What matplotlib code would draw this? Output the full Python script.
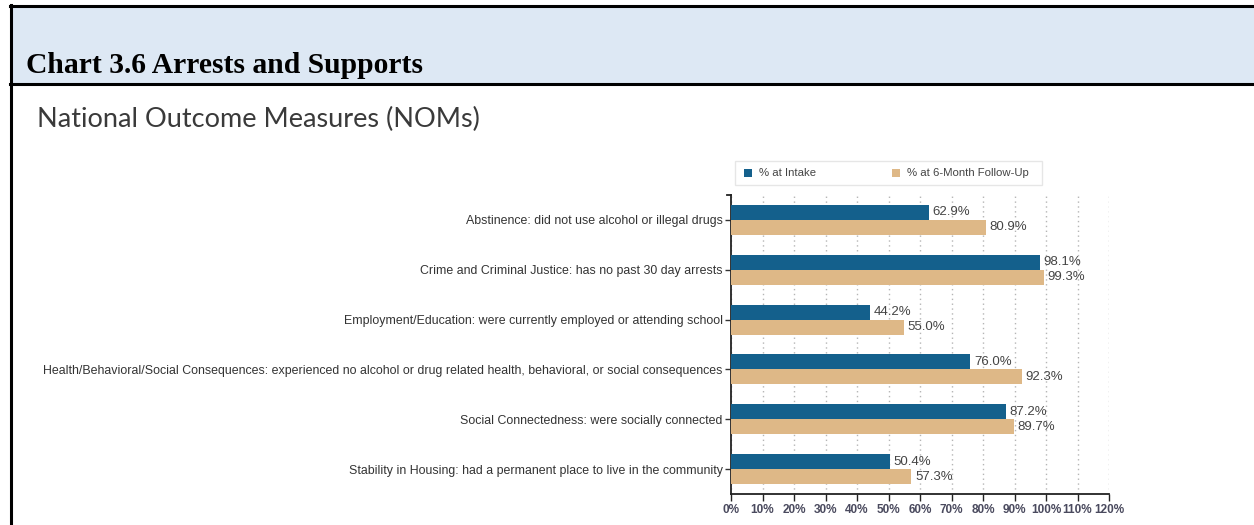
import matplotlib
matplotlib.use("Agg")
import matplotlib.pyplot as plt
from matplotlib.patches import Rectangle
from matplotlib.lines import Line2D

categories = [
    "Abstinence: did not use alcohol or illegal drugs",
    "Crime and Criminal Justice: has no past 30 day arrests",
    "Employment/Education: were currently employed or attending school",
    "Health/Behavioral/Social Consequences: experienced no alcohol or drug related health, behavioral, or social consequences",
    "Social Connectedness: were socially connected",
    "Stability in Housing: had a permanent place to live in the community",
]
intake = [62.9, 98.1, 44.2, 76.0, 87.2, 50.4]
followup = [80.9, 99.3, 55.0, 92.3, 89.7, 57.3]
series_names = ["% at Intake", "% at 6-Month Follow-Up"]
x_ticks = list(range(0, 121, 10))
x_tick_labels = [f"{t}%" for t in x_ticks]

W, H = 1254, 525
fig = plt.figure(figsize=(W / 100, H / 100), dpi=100)
fig.patch.set_facecolor("white")


def fx(px):
    return px / W


def fy(py):
    return 1 - py / H


# Header band with borders
fig.add_artist(Rectangle((fx(11), fy(84)), 1 - fx(11), fy(6) - fy(84),
                         transform=fig.transFigure, facecolor="#dde8f4",
                         edgecolor="none", zorder=0))
fig.add_artist(Line2D([fx(10), 1], [fy(6), fy(6)], transform=fig.transFigure,
                      color="black", lw=2.2))
fig.add_artist(Line2D([fx(10), 1], [fy(84), fy(84)], transform=fig.transFigure,
                      color="black", lw=2.2))
fig.add_artist(Line2D([fx(11), fx(11)], [fy(5), 0], transform=fig.transFigure,
                      color="black", lw=2.2))

fig.text(fx(26), fy(73), "Chart 3.6 Arrests and Supports",
         family="Liberation Serif", weight="bold", fontsize=21.3,
         color="black", va="baseline", ha="left")
fig.text(fx(37), fy(127), "National Outcome Measures (NOMs)",
         family="Lato", fontsize=19.5, color="#3a3a3a",
         va="baseline", ha="left")

# Bar chart
ax = fig.add_axes([fx(731), fy(494), fx(1109) - fx(731), fy(195) - fy(494)])
ypos = list(range(len(categories)))
bh = 0.3
c_in = "#14608c"
c_fu = "#deb887"
ax.barh([y - bh / 2 for y in ypos], intake, height=bh, color=c_in, zorder=3)
ax.barh([y + bh / 2 for y in ypos], followup, height=bh, color=c_fu, zorder=3)

for y, v in zip(ypos, intake):
    ax.annotate(f"{v:.1f}%", (v, y - bh / 2), xytext=(2.5, 0),
                textcoords="offset points", va="center", ha="left",
                fontsize=9.5, color="#444444", family="Liberation Sans")
for y, v in zip(ypos, followup):
    ax.annotate(f"{v:.1f}%", (v, y + bh / 2), xytext=(2.5, 0),
                textcoords="offset points", va="center", ha="left",
                fontsize=9.5, color="#444444", family="Liberation Sans")

ax.set_xlim(0, 120)
ax.set_ylim(len(categories) - 0.5, -0.5)
ax.set_xticks(x_ticks)
ax.set_xticklabels(x_tick_labels, fontsize=8.5, color="#4a4a5e",
                   family="Liberation Sans", weight="bold")
ax.set_yticks(ypos)
ax.set_yticklabels(categories, fontsize=8.9, color="#333333",
                   family="Liberation Sans")
ax.tick_params(axis="y", length=4, width=1, pad=2, color="#333333")
ax.tick_params(axis="x", length=5, width=1, pad=2, color="#222222")

ax.grid(axis="x", color="#b5b5b5", linestyle=(0, (1, 2.5)), lw=1, zorder=0)
ax.set_axisbelow(True)
for s in ("top", "right"):
    ax.spines[s].set_visible(False)
for s in ("left", "bottom"):
    ax.spines[s].set_color("#222222")
    ax.spines[s].set_linewidth(1.3)
# outer tick at top of the y-axis domain
ax.plot([0, -1.3], [-0.5, -0.5], color="#222222", lw=1.3, clip_on=False)

# Legend box with two entries
fig.add_artist(Rectangle((fx(735), fy(185)), fx(1042) - fx(735), fy(161) - fy(185),
                         transform=fig.transFigure, facecolor="white",
                         edgecolor="#e6e6e6", lw=1))
legend_entries = [(744, c_in, series_names[0]), (892, c_fu, series_names[1])]
for x0, col, name in legend_entries:
    fig.add_artist(Rectangle((fx(x0), fy(177)), fx(8), fy(169) - fy(177),
                             transform=fig.transFigure, facecolor=col,
                             edgecolor="none"))
    fig.text(fx(x0 + 15), fy(173), name, family="Liberation Sans", fontsize=8.2,
             color="#444444", va="center", ha="left")

fig.savefig("out.png", dpi=100)
